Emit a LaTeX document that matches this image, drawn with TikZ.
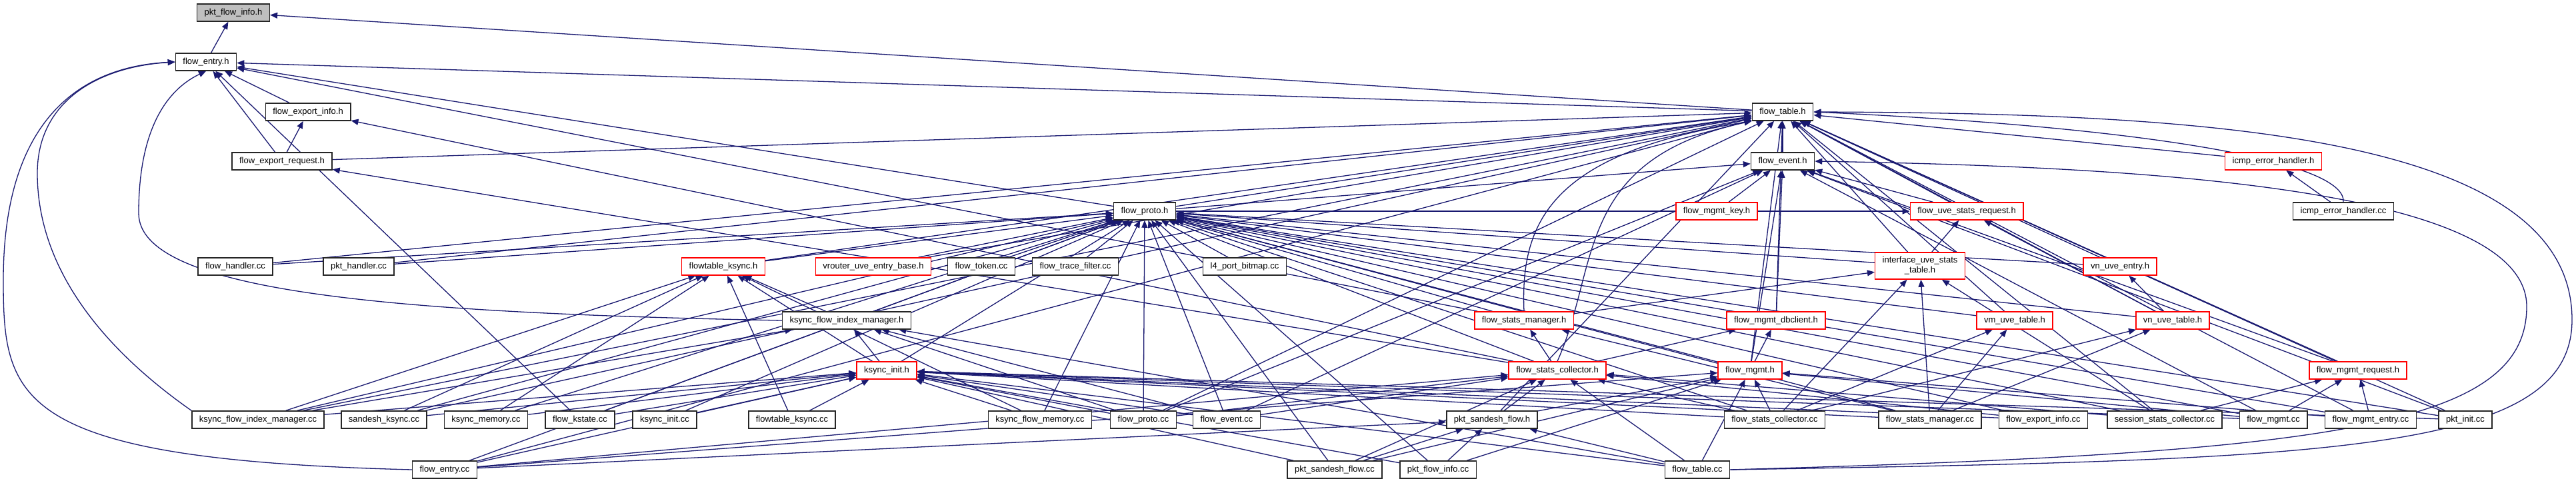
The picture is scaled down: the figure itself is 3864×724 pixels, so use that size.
\documentclass[tikz,border=0pt]{standalone}
\usepackage{fontspec}
\setmainfont{Liberation Sans}
\usepackage{tikz}
\usetikzlibrary{arrows.meta,backgrounds}
\definecolor{midnight}{RGB}{25,25,112}
\definecolor{cutred}{RGB}{255,0,0}
\definecolor{selfgray}{RGB}{191,191,191}
\tikzset{
  file/.style={draw=black!85,line width=1.5pt,fill=white,minimum height=26pt,
    inner xsep=11pt,inner ysep=0pt,font=\fontsize{13}{15}\selectfont},
  trunc/.style={file,draw=cutred},
  self/.style={file,fill=selfgray},
  incl/.style={draw=midnight,line width=1.3pt,-{Triangle[length=11pt,width=9pt]}}
}

\begin{document}
\begin{tikzpicture}[x=1pt,y=-1pt]
  \useasboundingbox (0,0) rectangle (3864,724);
  % headers
  \node[self]  (pfi_h)  at (350,19)   {pkt\_flow\_info.h};
  \node[file]  (fe_h)   at (309,93)   {flow\_entry.h};
  \node[file]  (fei_h)  at (462,168)  {flow\_export\_info.h};
  \node[file]  (ft_h)   at (2674,168) {flow\_table.h};
  \node[file]  (fer_h)  at (423,242)  {flow\_export\_request.h};
  \node[file]  (fev_h)  at (2674,242) {flow\_event.h};
  \node[trunc] (ieh_h)  at (3410,242) {icmp\_error\_handler.h};
  \node[file]  (fp_h)   at (1717,317) {flow\_proto.h};
  \node[trunc] (fmk_h)  at (2575,317) {flow\_mgmt\_key.h};
  \node[trunc] (fusr_h) at (2950,317) {flow\_uve\_stats\_request.h};
  \node[file]  (ieh_cc) at (3515,317) {icmp\_error\_handler.cc};
  \node[file]  (fh_cc)  at (353,400)  {flow\_handler.cc};
  \node[file]  (ph_cc)  at (538,400)  {pkt\_handler.cc};
  \node[trunc] (ftk_h)  at (1085,400) {flowtable\_ksync.h};
  \node[trunc] (vueb_h) at (1310,400) {vrouter\_uve\_entry\_base.h};
  \node[file]  (ftok_cc) at (1472,400) {flow\_token.cc};
  \node[file]  (ftf_cc) at (1613,400) {flow\_trace\_filter.cc};
  \node[file]  (l4_cc)  at (1867,400) {l4\_port\_bitmap.cc};
  \node[trunc,align=center,minimum height=40pt] (iust_h) at (2880,399)
    {interface\_uve\_stats\\\_table.h};
  \node[trunc] (vue_h)  at (3180,400) {vn\_uve\_entry.h};
  \node[file]  (kfim_h) at (1270,481) {ksync\_flow\_index\_manager.h};
  \node[trunc] (fsm_h)  at (2286,481) {flow\_stats\_manager.h};
  \node[trunc] (fmd_h)  at (2664,481) {flow\_mgmt\_dbclient.h};
  \node[trunc] (vmut_h) at (3022,481) {vm\_uve\_table.h};
  \node[trunc] (vnut_h) at (3259,481) {vn\_uve\_table.h};
  \node[trunc] (ki_h)   at (1330,556) {ksync\_init.h};
  \node[trunc] (fsc_h)  at (2336,556) {flow\_stats\_collector.h};
  \node[trunc] (fm_h)   at (2625,556) {flow\_mgmt.h};
  \node[trunc] (fmr_h)  at (3537,556) {flow\_mgmt\_request.h};
  \node[file]  (psf_h)  at (2238,630) {pkt\_sandesh\_flow.h};
  % sources
  \node[file] (kfim_cc) at (387,630)  {ksync\_flow\_index\_manager.cc};
  \node[file] (sk_cc)   at (576,630)  {sandesh\_ksync.cc};
  \node[file] (km_cc)   at (729,630)  {ksync\_memory.cc};
  \node[file] (fks_cc)  at (870,630)  {flow\_kstate.cc};
  \node[file] (ki_cc)   at (997,630)  {ksync\_init.cc};
  \node[file] (ftk_cc)  at (1188,630) {flowtable\_ksync.cc};
  \node[file] (kfm_cc)  at (1560,630) {ksync\_flow\_memory.cc};
  \node[file] (fp_cc)   at (1715,630) {flow\_proto.cc};
  \node[file] (fev_cc)  at (1840,630) {flow\_event.cc};
  \node[file] (fsc_cc)  at (2662,630) {flow\_stats\_collector.cc};
  \node[file] (fsm_cc)  at (2895,630) {flow\_stats\_manager.cc};
  \node[file] (fei_cc)  at (3065,630) {flow\_export\_info.cc};
  \node[file] (ssc_cc)  at (3247,630) {session\_stats\_collector.cc};
  \node[file] (fm_cc)   at (3410,630) {flow\_mgmt.cc};
  \node[file] (fme_cc)  at (3556,630) {flow\_mgmt\_entry.cc};
  \node[file] (pi_cc)   at (3698,630) {pkt\_init.cc};
  \node[file] (fe_cc)   at (667,705)  {flow\_entry.cc};
  \node[file] (psf_cc)  at (2002,705) {pkt\_sandesh\_flow.cc};
  \node[file] (pfi_cc)  at (2157,705) {pkt\_flow\_info.cc};
  \node[file] (ft_cc)   at (2546,705) {flow\_table.cc};

  \begin{scope}[on background layer]
    % header to header
    \foreach \s/\t in {fe_h/pfi_h,ft_h/pfi_h,ft_h/fe_h,fei_h/fe_h,fer_h/fe_h,fer_h/fei_h,
      fer_h/ft_h,fsc_h/fei_h,fsc_h/fer_h,fsc_h/fsm_h,fsc_h/fmd_h,fsc_h/fp_h,
      fev_h/ft_h,fp_h/ft_h,fp_h/fev_h,fp_h/fe_h,fp_h/fusr_h,fmk_h/fev_h,fmd_h/fev_h,
      fmd_h/ft_h,fm_h/fev_h,fm_h/fmd_h,fm_h/ft_h,fm_h/fp_h,fmr_h/ft_h,fmr_h/fev_h,
      fusr_h/ft_h,fusr_h/fev_h,iust_h/fusr_h,iust_h/ft_h,iust_h/fp_h,vue_h/ft_h,vue_h/fp_h,
      vnut_h/vue_h,vnut_h/fusr_h,vnut_h/ft_h,vnut_h/fp_h,vmut_h/ft_h,vmut_h/fp_h,
      fsm_h/iust_h,fsm_h/fe_h,fsm_h/fp_h,ieh_h/ft_h,ftk_h/ft_h,ftk_h/fp_h,
      vueb_h/ft_h,vueb_h/fp_h,kfim_h/ftk_h,ki_h/ftk_h,ki_h/kfim_h,ki_h/fp_h,
      psf_h/fsc_h,psf_h/fm_h,psf_h/ft_h}
      \draw[incl] (\s) -- (\t);
    % sources to headers
    \foreach \s/\t in {fh_cc/ft_h,fh_cc/fp_h,ph_cc/ft_h,ph_cc/fp_h,ftok_cc/fp_h,
      ftf_cc/fp_h,l4_cc/fp_h,ieh_cc/ieh_h,
      kfim_cc/ft_h,kfim_cc/fp_h,kfim_cc/ftk_h,kfim_cc/kfim_h,kfim_cc/ki_h,
      sk_cc/ft_h,sk_cc/fp_h,sk_cc/ftk_h,sk_cc/ki_h,km_cc/fp_h,km_cc/ki_h,km_cc/ftk_h,
      fks_cc/fp_h,fks_cc/ki_h,fks_cc/fe_h,ki_cc/fp_h,ki_cc/ki_h,ftk_cc/ftk_h,ftk_cc/ki_h,
      kfm_cc/ftk_h,kfm_cc/ki_h,kfm_cc/fp_h,
      fp_cc/fp_h,fp_cc/ki_h,fp_cc/fev_h,fp_cc/ft_h,fp_cc/kfim_h,fp_cc/fsc_h,
      fev_cc/fp_h,fev_cc/ki_h,fev_cc/fev_h,fev_cc/kfim_h,fev_cc/fsc_h,
      fsc_cc/fsc_h,fsc_cc/fm_h,fsc_cc/ki_h,fsc_cc/vmut_h,fsc_cc/vnut_h,fsc_cc/iust_h,fsc_cc/fp_h,
      fsm_cc/fsm_h,fsm_cc/vmut_h,fsm_cc/vnut_h,fsm_cc/ki_h,fsm_cc/fp_h,fsm_cc/iust_h,
      fei_cc/fsc_h,fei_cc/fp_h,fei_cc/ki_h,
      ssc_cc/fmr_h,ssc_cc/iust_h,ssc_cc/ft_h,ssc_cc/fp_h,ssc_cc/fsc_h,
      fm_cc/fmr_h,fm_cc/fm_h,fm_cc/fev_h,fm_cc/fp_h,fm_cc/ki_h,
      fme_cc/fmr_h,fme_cc/fm_h,fme_cc/ft_h,fme_cc/fp_h,
      pi_cc/fp_h,pi_cc/ft_h,pi_cc/ki_h,pi_cc/fev_h,
      fe_cc/ft_h,fe_cc/fp_h,fe_cc/ki_h,fe_cc/fsc_h,fe_cc/fm_h,fe_cc/psf_h,
      psf_cc/psf_h,psf_cc/fsc_h,psf_cc/ki_h,psf_cc/fm_h,psf_cc/fp_h,
      pfi_cc/psf_h,pfi_cc/fm_h,pfi_cc/ki_h,pfi_cc/fp_h,
      ft_cc/psf_h,ft_cc/fm_h,ft_cc/ki_h,ft_cc/kfim_h,ft_cc/fsc_h}
      \draw[incl] (\s) -- (\t);
    % curved ones
    \draw[incl] (fsm_h.north) .. controls (2280,330) and (2330,230) .. (ft_h.south west);
    \draw[incl] (fsc_h.north) .. controls (2400,400) and (2360,240) .. (ft_h.south west);
    \draw[incl] (ieh_cc.north) .. controls (3520,240) and (3200,190) .. (ft_h.east);
    \draw[incl] (kfim_h.west) .. controls (600,470) and (208,440) .. (208,320)
      .. controls (208,180) and (260,130) .. (fe_h.south);
    % long detours round the sides
    \draw[incl] (fe_cc.west) .. controls (20,690) and (5,600) .. (5,420)
      .. controls (5,180) and (120,100) .. (fe_h.west);
    \draw[incl] (kfim_cc.north west) .. controls (150,520) and (56,400) .. (56,260)
      .. controls (56,150) and (150,100) .. (fe_h.west);
    \draw[incl] (ft_cc.east) .. controls (3500,690) and (3858,680) .. (3858,480)
      .. controls (3858,200) and (3300,170) .. (ft_h.east);
    \draw[incl] (ft_cc.east) .. controls (3500,680) and (3790,640) .. (3790,460)
      .. controls (3790,280) and (3200,250) .. (fev_h.east);
  \end{scope}
\end{tikzpicture}
\end{document}
